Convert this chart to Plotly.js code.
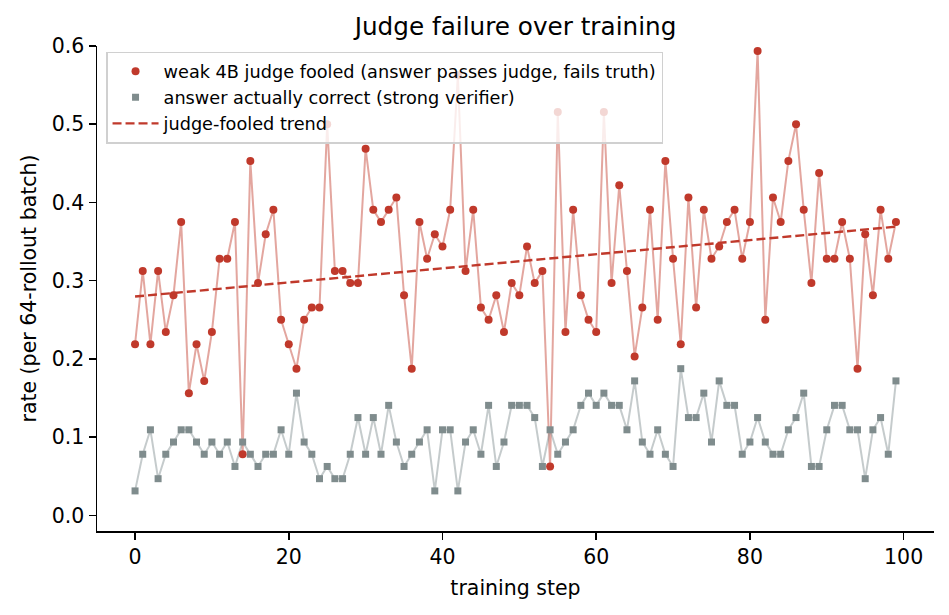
<!DOCTYPE html>
<html>
<head>
<meta charset="utf-8">
<script src="https://cdn.plot.ly/plotly-3.0.1.min.js"></script>
<style>
  html, body { margin: 0; padding: 0; background: #ffffff; }
  #chart { width: 949px; height: 615px; }
</style>
</head>
<body>
<div id="chart"></div>
<script>
// Per-step rates, each measured on a batch of 64 rollouts.
const steps = Array.from({length: 100}, (_, i) => i);

// Fraction of rollouts where the weak 4B judge was fooled.
const judgeFooled = [
  0.21875, 0.3125, 0.21875, 0.3125, 0.234375, 0.28125, 0.375, 0.15625, 0.21875, 0.171875,
  0.234375, 0.328125, 0.328125, 0.375, 0.078125, 0.453125, 0.296875, 0.359375, 0.390625, 0.25,
  0.21875, 0.1875, 0.25, 0.265625, 0.265625, 0.5, 0.3125, 0.3125, 0.296875, 0.296875,
  0.46875, 0.390625, 0.375, 0.390625, 0.40625, 0.28125, 0.1875, 0.375, 0.328125, 0.359375,
  0.34375, 0.390625, 0.5625, 0.3125, 0.390625, 0.265625, 0.25, 0.28125, 0.234375, 0.296875,
  0.28125, 0.34375, 0.296875, 0.3125, 0.0625, 0.515625, 0.234375, 0.390625, 0.28125, 0.25,
  0.234375, 0.515625, 0.296875, 0.421875, 0.3125, 0.203125, 0.265625, 0.390625, 0.25, 0.453125,
  0.328125, 0.21875, 0.40625, 0.265625, 0.390625, 0.328125, 0.34375, 0.375, 0.390625, 0.328125,
  0.375, 0.59375, 0.25, 0.40625, 0.375, 0.453125, 0.5, 0.390625, 0.296875, 0.4375,
  0.328125, 0.328125, 0.375, 0.328125, 0.1875, 0.359375, 0.28125, 0.390625, 0.328125, 0.375
];

// Fraction of rollouts whose answer the strong verifier marks correct.
const actuallyCorrect = [
  0.03125, 0.078125, 0.109375, 0.046875, 0.078125, 0.09375, 0.109375, 0.109375, 0.09375, 0.078125,
  0.09375, 0.078125, 0.09375, 0.0625, 0.09375, 0.078125, 0.0625, 0.078125, 0.078125, 0.109375,
  0.078125, 0.15625, 0.09375, 0.078125, 0.046875, 0.0625, 0.046875, 0.046875, 0.078125, 0.125,
  0.078125, 0.125, 0.078125, 0.140625, 0.09375, 0.0625, 0.078125, 0.09375, 0.109375, 0.03125,
  0.109375, 0.109375, 0.03125, 0.09375, 0.109375, 0.078125, 0.140625, 0.0625, 0.09375, 0.140625,
  0.140625, 0.140625, 0.125, 0.0625, 0.109375, 0.078125, 0.09375, 0.109375, 0.140625, 0.15625,
  0.140625, 0.15625, 0.140625, 0.140625, 0.109375, 0.171875, 0.09375, 0.078125, 0.109375, 0.078125,
  0.0625, 0.1875, 0.125, 0.125, 0.15625, 0.09375, 0.171875, 0.140625, 0.140625, 0.078125,
  0.09375, 0.125, 0.09375, 0.078125, 0.078125, 0.109375, 0.125, 0.15625, 0.0625, 0.0625,
  0.109375, 0.140625, 0.140625, 0.109375, 0.109375, 0.046875, 0.109375, 0.125, 0.078125, 0.171875
];

const seriesNames = [
  'weak 4B judge fooled (answer passes judge, fails truth)',
  'answer actually correct (strong verifier)',
  'judge-fooled trend'
];
const xTicks = [0, 20, 40, 60, 80, 100];
const yTicks = [0.0, 0.1, 0.2, 0.3, 0.4, 0.5, 0.6];

// Least-squares line through the judge-fooled rates.
function linearFit(xs, ys) {
  const n = xs.length;
  const mx = xs.reduce((a, b) => a + b, 0) / n;
  const my = ys.reduce((a, b) => a + b, 0) / n;
  let sxy = 0, sxx = 0;
  for (let i = 0; i < n; i++) {
    sxy += (xs[i] - mx) * (ys[i] - my);
    sxx += (xs[i] - mx) * (xs[i] - mx);
  }
  const slope = sxy / sxx;
  return xs.map(x => my + slope * (x - mx));
}
const trend = linearFit(steps, judgeFooled);

const RED = '#c0392b';
const GRAY = '#7f8c8d';
const FONT = 'DejaVu Sans, Verdana, sans-serif';

const traces = [
  { x: steps, y: judgeFooled, mode: 'lines', showlegend: false, hoverinfo: 'skip',
    line: { color: 'rgba(192,57,43,0.45)', width: 2 } },
  { x: steps, y: actuallyCorrect, mode: 'lines', showlegend: false, hoverinfo: 'skip',
    line: { color: 'rgba(127,140,141,0.45)', width: 2 } },
  { x: steps, y: judgeFooled, mode: 'markers', name: seriesNames[0],
    legendgroup: 'a', legendrank: 1,
    marker: { color: RED, size: 8, symbol: 'circle' } },
  { x: steps, y: actuallyCorrect, mode: 'markers', name: seriesNames[1],
    legendgroup: 'b', legendrank: 2,
    marker: { color: GRAY, size: 7, symbol: 'square' } },
  { x: steps, y: trend, mode: 'lines', name: seriesNames[2],
    legendgroup: 'c', legendrank: 3,
    line: { color: RED, width: 2.4, dash: '9px,4px' } }
];

const axisCommon = {
  showgrid: false, zeroline: false, showline: true,
  linecolor: '#000000', linewidth: 1.5,
  ticks: 'outside', ticklen: 7, tickwidth: 1.5, tickcolor: '#000000',
  tickfont: { family: FONT, size: 20.5, color: '#000000' },
  mirror: false
};

const layout = {
  width: 949, height: 615,
  paper_bgcolor: '#ffffff', plot_bgcolor: '#ffffff',
  margin: { l: 97, r: 15, t: 46, b: 84 },
  font: { family: FONT, color: '#000000' },
  title: {
    text: 'Judge failure over training',
    font: { family: FONT, size: 24.7, color: '#000000' },
    xref: 'paper', x: 0.5, xanchor: 'center',
    yref: 'container', y: 1 - 26 / 615, yanchor: 'middle'
  },
  xaxis: Object.assign({}, axisCommon, {
    range: [-4.95, 103.95],
    tickmode: 'array', tickvals: xTicks, ticktext: xTicks.map(String),
    title: { text: 'training step', standoff: 12,
             font: { family: FONT, size: 20.5, color: '#000000' } },
    automargin: false
  }),
  yaxis: Object.assign({}, axisCommon, {
    range: [-0.02, 0.6],
    tickmode: 'array', tickvals: yTicks, ticktext: yTicks.map(v => v.toFixed(1)),
    title: { text: 'rate (per 64-rollout batch)', standoff: 9,
             font: { family: FONT, size: 20.5, color: '#000000' } },
    automargin: false
  }),
  legend: {
    x: 0.0108, y: 0.988, xanchor: 'left', yanchor: 'top',
    bgcolor: 'rgba(255,255,255,0.8)', bordercolor: '#d0d0d0', borderwidth: 1.5,
    font: { family: FONT, size: 17.7, color: '#000000' },
    itemwidth: 46, tracegroupgap: 2,
    traceorder: 'normal'
  },
  showlegend: true
};

Plotly.newPlot('chart', traces, layout, { displayModeBar: false, staticPlot: true });
</script>
</body>
</html>
